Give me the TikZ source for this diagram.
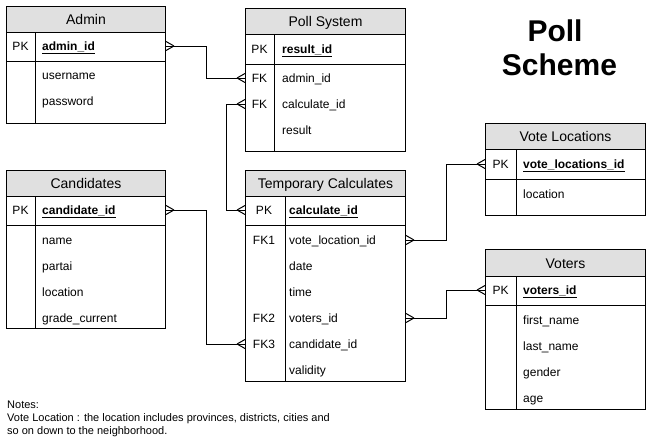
\documentclass[tikz,border=0pt]{standalone}
\usepackage{fontspec}
\setmainfont{Liberation Sans}
\definecolor{hdrgray}{RGB}{224,224,224}
\newcommand{\pkf}[1]{\underline{\textbf{#1}}}
\tikzset{
  ln/.style={line width=1pt, draw=black},
  tabbox/.style={ln, fill=white, anchor=north west, inner sep=0pt},
  hdrbox/.style={ln, fill=hdrgray, anchor=north west, inner sep=0pt,
    font=\fontsize{14}{16}\selectfont, text height=10pt, text depth=0pt},
  fld/.style={anchor=west, inner sep=0pt, font=\fontsize{12}{14}\selectfont,
    text height=8.6pt, text depth=0pt},
  keylbl/.style={anchor=center, inner sep=0pt, font=\fontsize{12}{14}\selectfont,
    text height=8.6pt, text depth=0pt},
  conn/.style={line width=1pt, draw=black},
  crow/.pic={\draw[conn] (-8,0) -- (0,-4.5) (-8,0) -- (0,4.5);}
}
\begin{document}
\begin{tikzpicture}[x=1pt,y=-1pt]
\fill[white] (0,0) rectangle (651,442);
\useasboundingbox (0,0) rectangle (651,442);

% ---------- Admin
\node[tabbox, minimum width=159pt, minimum height=117pt] (admin) at (6,6) {};
\node[hdrbox, minimum width=159pt, minimum height=26pt] (admin-h) at (6,6) {Admin};
\draw[ln] (6,61) -- (165,61) (35,32) -- (35,123);
\node[keylbl] (admin-k0) at (20.5,46) {PK};
\node[fld] (admin-r0) at (42,46) {\pkf{admin\_id}};
\node[fld] (admin-r1) at (42,75) {username};
\node[fld] (admin-r2) at (42,101) {password};

% ---------- Poll System
\node[tabbox, minimum width=160pt, minimum height=143pt] (poll) at (245,8) {};
\node[hdrbox, minimum width=160pt, minimum height=26pt] (poll-h) at (245,8) {Poll System};
\draw[ln] (245,64) -- (405,64) (274,34) -- (274,151);
\node[keylbl] (poll-k0) at (259.5,49) {PK};
\node[keylbl] (poll-k1) at (259.5,78) {FK};
\node[keylbl] (poll-k2) at (259.5,104) {FK};
\node[fld] (poll-r0) at (282,49) {\pkf{result\_id}};
\node[fld] (poll-r1) at (282,78) {admin\_id};
\node[fld] (poll-r2) at (282,104) {calculate\_id};
\node[fld] (poll-r3) at (282,130) {result};

% ---------- Candidates
\node[tabbox, minimum width=159pt, minimum height=158pt] (cand) at (6,170) {};
\node[hdrbox, minimum width=159pt, minimum height=26pt] (cand-h) at (6,170) {Candidates};
\draw[ln] (6,225) -- (165,225) (35,196) -- (35,328);
\node[keylbl] (cand-k0) at (20.5,210) {PK};
\node[fld] (cand-r0) at (42,210) {\pkf{candidate\_id}};
\node[fld] (cand-r1) at (42,240) {name};
\node[fld] (cand-r2) at (42,266) {partai};
\node[fld] (cand-r3) at (42,292) {location};
\node[fld] (cand-r4) at (42,318) {grade\_current};

% ---------- Temporary Calculates
\node[tabbox, minimum width=160pt, minimum height=211pt] (tc) at (245,170) {};
\node[hdrbox, minimum width=160pt, minimum height=26pt] (tc-h) at (245,170) {Temporary Calculates};
\draw[ln] (245,225) -- (405,225) (285,196) -- (285,381);
\node[keylbl] (tc-k0) at (264,210) {PK};
\node[keylbl] (tc-k1) at (264,240) {FK1};
\node[keylbl] (tc-k4) at (264,318) {FK2};
\node[keylbl] (tc-k5) at (264,344) {FK3};
\node[fld] (tc-r0) at (289,210) {\pkf{calculate\_id}};
\node[fld] (tc-r1) at (289,240) {vote\_location\_id};
\node[fld] (tc-r2) at (289,266) {date};
\node[fld] (tc-r3) at (289,292) {time};
\node[fld] (tc-r4) at (289,318) {voters\_id};
\node[fld] (tc-r5) at (289,344) {candidate\_id};
\node[fld] (tc-r6) at (289,370) {validity};

% ---------- Vote Locations
\node[tabbox, minimum width=160pt, minimum height=92pt] (vl) at (485,123) {};
\node[hdrbox, minimum width=160pt, minimum height=26pt] (vl-h) at (485,123) {Vote Locations};
\draw[ln] (485,179) -- (645,179) (516,149) -- (516,215);
\node[keylbl] (vl-k0) at (500.5,164) {PK};
\node[fld] (vl-r0) at (523,164) {\pkf{vote\_locations\_id}};
\node[fld] (vl-r1) at (523,194) {location};

% ---------- Voters
\node[tabbox, minimum width=160pt, minimum height=160pt] (voters) at (485,249) {};
\node[hdrbox, minimum width=160pt, minimum height=27pt] (voters-h) at (485,249) {Voters};
\draw[ln] (485,305) -- (645,305) (516,276) -- (516,409);
\node[keylbl] (voters-k0) at (500.5,290) {PK};
\node[fld] (voters-r0) at (523,290) {\pkf{voters\_id}};
\node[fld] (voters-r1) at (523,320) {first\_name};
\node[fld] (voters-r2) at (523,346) {last\_name};
\node[fld] (voters-r3) at (523,372) {gender};
\node[fld] (voters-r4) at (523,398) {age};

% ---------- Connectors
\draw[conn] (admin.east |- admin-r0) -- ++(40,0) |- (poll.west |- poll-r1);
\draw[conn] (poll.west |- poll-r2) -- ++(-19,0) |- (tc.west |- tc-r0);
\draw[conn] (cand.east |- cand-r0) -- ++(40,0) |- (tc.west |- tc-r5);
\draw[conn] (tc.east |- tc-r1) -- ++(40,0) |- (vl.west |- vl-r0);
\draw[conn] (tc.east |- tc-r4) -- ++(40,0) |- (voters.west |- voters-r0);

\pic[xscale=-1] at (admin.east |- admin-r0) {crow};
\pic at (poll.west |- poll-r1) {crow};
\pic at (poll.west |- poll-r2) {crow};
\pic at (tc.west |- tc-r0) {crow};
\pic[xscale=-1] at (cand.east |- cand-r0) {crow};
\pic at (tc.west |- tc-r5) {crow};
\pic[xscale=-1] at (tc.east |- tc-r1) {crow};
\pic at (vl.west |- vl-r0) {crow};
\pic[xscale=-1] at (tc.east |- tc-r4) {crow};
\pic at (voters.west |- voters-r0) {crow};

% ---------- Title and notes
\node[inner sep=0pt, anchor=base, font=\fontsize{30}{34}\selectfont\bfseries] (title1) at (555,41) {Poll};
\node[inner sep=0pt, anchor=base, font=\fontsize{30}{34}\selectfont\bfseries] (title2) at (559.5,75) {Scheme};
\node[inner sep=0pt, anchor=north west, align=left, font=\fontsize{11}{13}\selectfont] (notes) at (7,401)
  {Notes:\\Vote Location : the location includes provinces, districts, cities and\\so on down to the neighborhood.};
\end{tikzpicture}
\end{document}
